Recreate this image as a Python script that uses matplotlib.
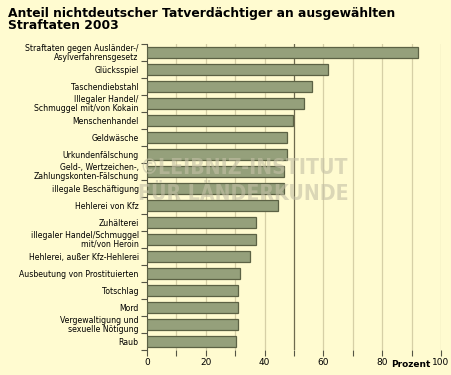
import numpy as np
import matplotlib.pyplot as plt

labels = [
    "Straftaten gegen Ausländer-/\nAsylverfahrensgesetz",
    "Glücksspiel",
    "Taschendiebstahl",
    "Illegaler Handel/\nSchmuggel mit/von Kokain",
    "Menschenhandel",
    "Geldwäsche",
    "Urkundenfälschung",
    "Geld-, Wertzeichen-,\nZahlungskonten-Fälschung",
    "illegale Beschäftigung",
    "Hehlerei von Kfz",
    "Zuhälterei",
    "illegaler Handel/Schmuggel\nmit/von Heroin",
    "Hehlerei, außer Kfz-Hehlerei",
    "Ausbeutung von Prostituierten",
    "Totschlag",
    "Mord",
    "Vergewaltigung und\nsexuelle Nötigung",
    "Raub",
]
values = [92.1, 61.4, 56.2, 53.5, 49.5, 47.5, 47.5, 46.7, 46.7, 44.7,
          37.0, 37.0, 34.9, 31.5, 30.8, 30.8, 30.8, 30.2]
xticks = [0, 20, 40, 60, 80, 100]

bg = "#fffbd0"
bar_col = "#95a07b"
edge_col = "#5c6244"

fig = plt.figure(figsize=(4.51, 3.75), dpi=100)
fig.patch.set_facecolor(bg)
ax = fig.add_axes([0.326, 0.067, 0.652, 0.816])
ax.set_facecolor(bg)

y = np.arange(len(labels))
ax.barh(y, values, height=0.62, color=bar_col, edgecolor=edge_col, linewidth=0.9, zorder=3)
ax.set_ylim(len(labels) - 0.5, -0.5)
ax.set_xlim(0, 100)

# grid
for gx in range(10, 101, 10):
    if gx == 50:
        ax.axvline(gx, color="#6e6a4e", lw=0.9, zorder=1)
    else:
        ax.axvline(gx, color="#d6cfa6", lw=0.9, zorder=1)

ax.set_yticks(y)
ax.set_yticklabels(labels, fontsize=5.6, linespacing=0.88)
ax.set_yticks(np.arange(-0.5, len(labels), 1), minor=True)
ax.tick_params(axis="y", which="major", length=0, pad=6)
ax.tick_params(axis="y", which="minor", length=4, color="#555544", width=0.8)

ax.set_xticks(xticks)
ax.set_xticks(range(0, 101, 10), minor=True)
ax.tick_params(axis="x", which="both", length=4, color="#555544", width=0.8, labelsize=6.5, pad=2)

for s in ["top", "right", "bottom"]:
    ax.spines[s].set_visible(False)
ax.spines["left"].set_color("#555544")
ax.spines["left"].set_linewidth(0.8)

fig.text(0.018, 0.982, "Anteil nichtdeutscher Tatverdächtiger an ausgewählten\nStraftaten 2003",
         fontsize=8.9, fontweight="bold", va="top", ha="left", linespacing=0.95)
fig.text(0.955, 0.017, "Prozent", fontsize=6.5, fontweight="bold", ha="right", va="bottom")

# watermark
wm = dict(fontsize=15.2, fontweight="bold", fontstretch="condensed", color="#c4c0a6",
          alpha=0.6, ha="right", va="center", zorder=10)
fig.text(0.772, 0.552, "©LEIBNIZ-INSTITUT", **wm)
fig.text(0.772, 0.482, "FÜR LÄNDERKUNDE", **wm)

fig.savefig("out.png", dpi=100, facecolor=bg)
